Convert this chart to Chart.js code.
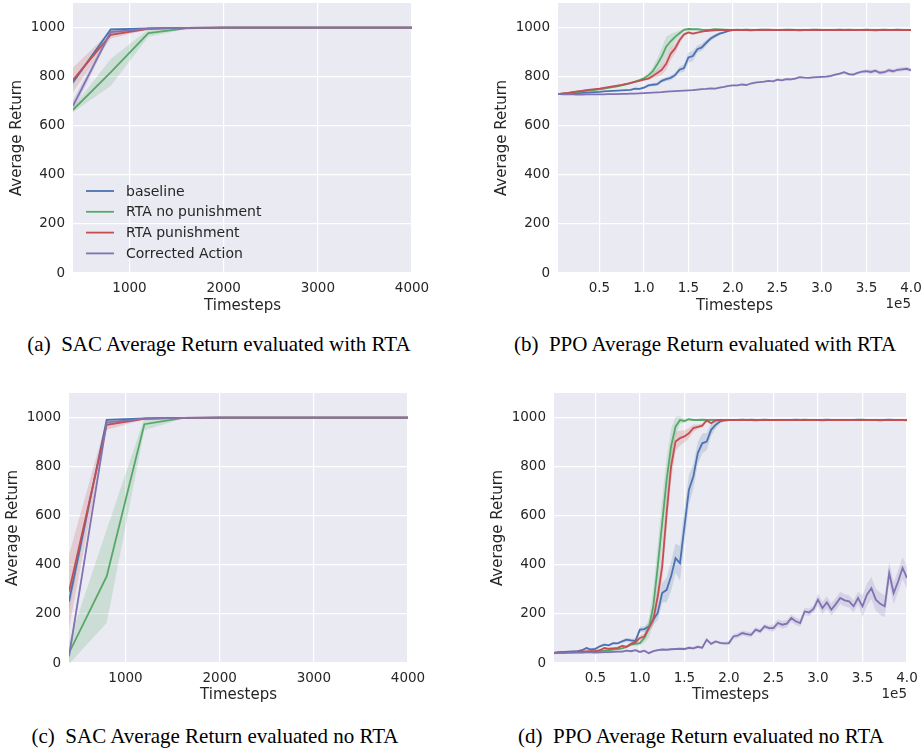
<!DOCTYPE html>
<html>
<head>
<meta charset="utf-8">
<script src="https://cdn.jsdelivr.net/npm/chart.js@4.4.0/dist/chart.umd.min.js"></script>
<style>
  body { margin: 0; background: #fff; width: 923px; height: 749px; position: relative; overflow: hidden; }
  canvas { position: absolute; }
  .cap { position: absolute; font-family: "Liberation Serif", serif; font-size: 21px; color: #000;
         white-space: nowrap; transform: translate(-50%, -50%); }
</style>
</head>
<body>
<canvas id="chartA" width="460" height="320" style="left:0;top:0"></canvas>
<canvas id="chartB" width="463" height="320" style="left:460px;top:0"></canvas>
<canvas id="chartC" width="460" height="330" style="left:0;top:380px"></canvas>
<canvas id="chartD" width="463" height="330" style="left:460px;top:380px"></canvas>
<div class="cap" style="left:219px;top:344px">(a)&nbsp; SAC Average Return evaluated with RTA</div>
<div class="cap" style="left:705px;top:344px">(b)&nbsp; PPO Average Return evaluated with RTA</div>
<div class="cap" style="left:215px;top:736px">(c)&nbsp; SAC Average Return evaluated no RTA</div>
<div class="cap" style="left:701px;top:736px">(d)&nbsp; PPO Average Return evaluated no RTA</div>
<script>
const seriesLabels = ['baseline', 'RTA no punishment', 'RTA punishment', 'Corrected Action'];
const yTicks = [0, 200, 400, 600, 800, 1000];
const sacTicks = [1000, 2000, 3000, 4000];
const ppoTicks = [50000, 100000, 150000, 200000, 250000, 300000, 350000, 400000];

// SAC, evaluated every 400 steps
const sacSteps = [400, 800, 1200, 1600, 2000, 2400, 2800, 3200, 3600, 4000];

const sacRtaBaseline  = [777, 992, 997, 999, 1000, 1000, 1000, 1000, 1000, 1000];
const sacRtaNoPun     = [665, 817, 977, 997, 1000, 1000, 1000, 1000, 1000, 1000];
const sacRtaPun       = [787, 970, 995, 999, 1000, 1000, 1000, 1000, 1000, 1000];
const sacRtaCorrected = [681, 981, 996, 999, 1000, 1000, 1000, 1000, 1000, 1000];
const sacRtaBaselineSd  = [10, 3, 1, 0, 0, 0, 0, 0, 0, 0];
const sacRtaNoPunSd     = [10, 55, 15, 3, 0, 0, 0, 0, 0, 0];
const sacRtaPunSd       = [50, 15, 3, 1, 0, 0, 0, 0, 0, 0];
const sacRtaCorrectedSd = [25, 8, 2, 1, 0, 0, 0, 0, 0, 0];

const sacNoRtaBaseline  = [251, 991, 997, 999, 1000, 1000, 1000, 1000, 1000, 1000];
const sacNoRtaNoPun     = [41, 353, 973, 998, 1000, 1000, 1000, 1000, 1000, 1000];
const sacNoRtaPun       = [291, 970, 995, 999, 1000, 1000, 1000, 1000, 1000, 1000];
const sacNoRtaCorrected = [27, 980, 996, 999, 1000, 1000, 1000, 1000, 1000, 1000];
const sacNoRtaBaselineSd  = [40, 3, 1, 0, 0, 0, 0, 0, 0, 0];
const sacNoRtaNoPunSd     = [45, 190, 25, 3, 0, 0, 0, 0, 0, 0];
const sacNoRtaPunSd       = [150, 20, 3, 1, 0, 0, 0, 0, 0, 0];
const sacNoRtaCorrectedSd = [20, 8, 2, 1, 0, 0, 0, 0, 0, 0];

// PPO, read every 5000 steps
const ppoSteps = [0, 5000, 10000, 15000, 20000, 25000, 30000, 35000, 40000, 45000,
  50000, 55000, 60000, 65000, 70000, 75000, 80000, 85000, 90000, 95000,
  100000, 105000, 110000, 115000, 120000, 125000, 130000, 135000, 140000, 145000,
  150000, 155000, 160000, 165000, 170000, 175000, 180000, 185000, 190000, 195000,
  200000, 205000, 210000, 215000, 220000, 225000, 230000, 235000, 240000, 245000,
  250000, 255000, 260000, 265000, 270000, 275000, 280000, 285000, 290000, 295000,
  300000, 305000, 310000, 315000, 320000, 325000, 330000, 335000, 340000, 345000,
  350000, 355000, 360000, 365000, 370000, 375000, 380000, 385000, 390000, 395000, 400000];

const ppoRtaBaseline = [728, 729, 730, 731, 732, 733, 734, 735, 736, 737,
  738, 740, 741, 742, 743, 744, 745, 746, 751, 750,
  755, 764, 767, 769, 783, 790, 795, 806, 828, 835,
  878, 884, 912, 919, 938, 955, 966, 975, 980, 986,
  990, 990, 990, 991, 990, 990, 990, 991, 990, 990,
  990, 990, 991, 990, 990, 990, 990, 990, 991, 990,
  990, 990, 990, 990, 991, 990, 990, 990, 990, 990,
  991, 990, 990, 990, 990, 990, 990, 991, 990, 990, 990];
const ppoRtaNoPun = [728, 730, 732, 734, 736, 738, 740, 742, 744, 746,
  748, 751, 754, 757, 760, 764, 768, 773, 780, 786,
  793, 805, 822, 850, 882, 922, 944, 962, 977, 991,
  994, 993, 993, 991, 990, 991, 993, 992, 991, 990,
  990, 991, 990, 990, 990, 990, 991, 990, 990, 990,
  990, 990, 990, 991, 990, 990, 990, 990, 990, 991,
  990, 990, 990, 990, 990, 990, 991, 990, 990, 990,
  990, 990, 990, 990, 991, 990, 990, 990, 990, 990, 990];
const ppoRtaPun = [728, 730, 732, 734, 737, 740, 742, 745, 747, 749,
  751, 754, 757, 760, 763, 766, 770, 775, 779, 783,
  788, 792, 803, 815, 828, 852, 893, 915, 948, 972,
  980, 975, 979, 983, 986, 988, 989, 990, 990, 990,
  990, 990, 990, 990, 989, 990, 990, 990, 991, 990,
  990, 990, 990, 990, 990, 989, 990, 990, 990, 990,
  990, 990, 990, 990, 990, 990, 990, 990, 990, 990,
  990, 990, 989, 990, 990, 990, 990, 990, 990, 990, 990];
const ppoRtaCorrected = [729, 729, 728, 728, 728, 727, 727, 728, 728, 728,
  728, 728, 729, 729, 729, 730, 730, 731, 731, 732,
  733, 734, 735, 736, 737, 739, 740, 741, 742, 743,
  744, 745, 747, 749, 750, 752, 751, 755, 758, 762,
  764, 764, 768, 766, 772, 776, 778, 780, 783, 781,
  788, 785, 790, 789, 792, 798, 796, 795, 797, 798,
  799, 800, 803, 808, 812, 818, 810, 808, 815, 820,
  822, 819, 824, 816, 818, 826, 822, 828, 830, 832, 826];
const ppoRtaBaselineSd = [2, 2, 2, 2, 2, 2, 2, 2, 2, 2,
  2, 2, 2, 2, 2, 2, 2, 2, 4, 4,
  5, 6, 6, 7, 8, 9, 10, 10, 12, 15,
  20, 20, 15, 15, 12, 10, 8, 6, 4, 3,
  1, 1, 1, 1, 1, 1, 1, 1, 1, 1,
  1, 1, 1, 1, 1, 1, 1, 1, 1, 1,
  1, 1, 1, 1, 1, 1, 1, 1, 1, 1,
  1, 1, 1, 1, 1, 1, 1, 1, 1, 1, 1];
const ppoRtaNoPunSd = [2, 2, 2, 2, 2, 2, 2, 2, 2, 2,
  2, 2, 2, 2, 2, 2, 2, 2, 3, 4,
  6, 10, 15, 25, 35, 40, 30, 20, 10, 5,
  3, 2, 2, 2, 2, 2, 2, 2, 2, 2,
  1, 1, 1, 1, 1, 1, 1, 1, 1, 1,
  1, 1, 1, 1, 1, 1, 1, 1, 1, 1,
  1, 1, 1, 1, 1, 1, 1, 1, 1, 1,
  1, 1, 1, 1, 1, 1, 1, 1, 1, 1, 1];
const ppoRtaPunSd = [2, 2, 2, 2, 2, 2, 2, 2, 2, 2,
  2, 2, 2, 2, 2, 2, 2, 2, 2, 2,
  4, 6, 10, 15, 20, 25, 25, 20, 15, 8,
  5, 5, 4, 3, 2, 2, 2, 2, 2, 2,
  1, 1, 1, 1, 1, 1, 1, 1, 1, 1,
  1, 1, 1, 1, 1, 1, 1, 1, 1, 1,
  1, 1, 1, 1, 1, 1, 1, 1, 1, 1,
  1, 1, 1, 1, 1, 1, 1, 1, 1, 1, 1];
const ppoRtaCorrectedSd = [2, 2, 2, 2, 2, 2, 2, 2, 2, 2,
  2, 2, 2, 2, 2, 2, 2, 2, 2, 2,
  2, 2, 2, 2, 2, 2, 2, 2, 2, 2,
  3, 3, 3, 3, 3, 3, 3, 3, 3, 3,
  3, 3, 3, 3, 3, 3, 3, 3, 3, 3,
  5, 5, 5, 5, 5, 5, 5, 5, 5, 5,
  5, 5, 5, 5, 5, 5, 5, 5, 5, 5,
  8, 8, 8, 8, 8, 8, 8, 8, 8, 8, 8];

const ppoNoRtaBaseline = [40, 42, 44, 45, 46, 47, 48, 52, 61, 55,
  58, 68, 75, 72, 81, 80, 88, 95, 92, 90,
  136, 138, 149, 176, 204, 285, 298, 353, 427, 407,
  556, 705, 760, 855, 895, 902, 950, 970, 984, 988,
  990, 990, 990, 991, 990, 990, 990, 990, 991, 990,
  990, 990, 990, 990, 990, 991, 990, 990, 990, 990,
  990, 990, 991, 990, 990, 990, 990, 990, 990, 991,
  990, 990, 990, 990, 990, 990, 991, 990, 990, 990, 990];
const ppoNoRtaNoPun = [38, 40, 40, 41, 42, 43, 44, 45, 46, 46,
  47, 48, 50, 52, 55, 57, 60, 66, 75, 78,
  81, 102, 142, 230, 393, 570, 746, 882, 963, 990,
  986, 993, 990, 990, 991, 990, 990, 990, 990, 990,
  990, 990, 990, 990, 990, 991, 990, 990, 990, 990,
  990, 990, 990, 990, 990, 990, 990, 991, 990, 990,
  990, 990, 990, 990, 990, 990, 990, 990, 990, 990,
  991, 990, 990, 990, 990, 990, 990, 990, 990, 990, 990];
const ppoNoRtaPun = [40, 42, 43, 44, 45, 45, 46, 47, 47, 48,
  48, 52, 61, 58, 60, 62, 70, 66, 78, 85,
  102, 108, 142, 176, 271, 393, 610, 800, 902, 916,
  923, 936, 957, 962, 967, 988, 977, 988, 990, 990,
  990, 990, 990, 990, 990, 990, 989, 990, 990, 990,
  990, 990, 990, 990, 990, 990, 990, 990, 990, 990,
  990, 989, 990, 990, 990, 990, 990, 990, 990, 990,
  990, 990, 990, 990, 989, 990, 990, 990, 990, 990, 989];
const ppoNoRtaCorrected = [40, 40, 41, 41, 42, 42, 42, 42, 43, 43,
  42, 43, 44, 44, 45, 46, 46, 50, 48, 52,
  45, 50, 40, 48, 52, 55, 54, 56, 57, 58,
  57, 62, 60, 66, 62, 95, 78, 88, 82, 80,
  81, 108, 112, 122, 118, 115, 136, 129, 149, 142,
  142, 163, 156, 160, 183, 170, 163, 210, 206, 220,
  258, 224, 247, 217, 240, 265, 255, 251, 231, 265,
  231, 278, 305, 258, 241, 231, 366, 285, 332, 387, 346];
const ppoNoRtaBaselineSd = [4, 4, 4, 4, 4, 4, 4, 4, 4, 4,
  4, 4, 4, 4, 4, 4, 6, 8, 8, 10,
  12, 12, 15, 20, 30, 40, 50, 60, 60, 70,
  70, 60, 50, 45, 40, 35, 25, 15, 8, 4,
  2, 2, 2, 2, 2, 2, 2, 2, 2, 2,
  2, 2, 2, 2, 2, 2, 2, 2, 2, 2,
  2, 2, 2, 2, 2, 2, 2, 2, 2, 2,
  2, 2, 2, 2, 2, 2, 2, 2, 2, 2, 2];
const ppoNoRtaNoPunSd = [3, 3, 3, 3, 3, 3, 3, 3, 3, 3,
  3, 3, 3, 3, 3, 3, 4, 5, 6, 8,
  10, 20, 40, 70, 90, 100, 90, 70, 40, 15,
  8, 4, 2, 2, 2, 2, 2, 2, 2, 2,
  2, 2, 2, 2, 2, 2, 2, 2, 2, 2,
  2, 2, 2, 2, 2, 2, 2, 2, 2, 2,
  2, 2, 2, 2, 2, 2, 2, 2, 2, 2,
  2, 2, 2, 2, 2, 2, 2, 2, 2, 2, 2];
const ppoNoRtaPunSd = [3, 3, 3, 3, 3, 3, 3, 3, 3, 3,
  3, 3, 3, 3, 3, 3, 5, 5, 6, 8,
  10, 12, 15, 25, 40, 60, 70, 60, 40, 30,
  25, 20, 15, 10, 8, 6, 5, 4, 2, 2,
  2, 2, 2, 2, 2, 2, 2, 2, 2, 2,
  2, 2, 2, 2, 2, 2, 2, 2, 2, 2,
  2, 2, 2, 2, 2, 2, 2, 2, 2, 2,
  2, 2, 2, 2, 2, 2, 2, 2, 2, 2, 2];
const ppoNoRtaCorrectedSd = [4, 4, 4, 4, 4, 4, 4, 4, 4, 4,
  4, 4, 4, 4, 4, 4, 4, 4, 4, 4,
  4, 4, 4, 4, 4, 4, 4, 4, 4, 4,
  6, 6, 6, 6, 6, 6, 6, 6, 6, 6,
  10, 10, 10, 10, 10, 10, 10, 10, 10, 10,
  15, 15, 15, 15, 15, 15, 15, 15, 15, 15,
  25, 25, 25, 25, 25, 25, 25, 25, 25, 25,
  45, 45, 45, 45, 45, 45, 45, 45, 45, 45, 45];

const colors = ['#4C72B0', '#55A868', '#C44E52', '#8172B2'];
const textColor = '#262626';

function buildDatasets(xs, means, sds) {
  const lines = [];
  const bands = [];
  means.forEach((m, s) => {
    lines.push({
      label: seriesLabels[s],
      data: xs.map((x, i) => ({ x: x, y: m[i] })),
      borderColor: colors[s], borderWidth: 1.8, pointRadius: 0, fill: false,
      order: 4 - s
    });
  });
  means.forEach((m, s) => {
    bands.push({
      data: xs.map((x, i) => ({ x: x, y: m[i] + sds[s][i] })),
      borderColor: 'rgba(0,0,0,0)', borderWidth: 0, pointRadius: 0,
      backgroundColor: colors[s] + '33', fill: '+1', order: 10 + s
    });
    bands.push({
      data: xs.map((x, i) => ({ x: x, y: m[i] - sds[s][i] })),
      borderColor: 'rgba(0,0,0,0)', borderWidth: 0, pointRadius: 0,
      fill: false, order: 10 + s
    });
  });
  return lines.concat(bands);
}

const panelBg = {
  id: 'panelBg',
  beforeDraw(chart) {
    const a = chart.chartArea, ctx = chart.ctx;
    ctx.save();
    ctx.fillStyle = '#EAEAF2';
    ctx.fillRect(a.left, a.top, a.right - a.left, a.bottom - a.top);
    ctx.restore();
  }
};

const extras = {
  id: 'extras',
  afterDraw(chart, args, opts) {
    const ctx = chart.ctx, a = chart.chartArea;
    ctx.save();
    ctx.fillStyle = textColor;
    if (opts.offset) {
      ctx.textAlign = 'right';
      ctx.textBaseline = 'middle';
      ctx.font = '13.5px "DejaVu Sans"';
      ctx.fillText('1e5', a.right, opts.offsetY);
    }
    if (opts.legend) {
      const lg = opts.legend;
      ctx.font = '14px "DejaVu Sans"';
      ctx.textAlign = 'left';
      ctx.textBaseline = 'middle';
      seriesLabels.forEach((lab, i) => {
        const y = lg.y + i * lg.gap;
        ctx.strokeStyle = colors[i];
        ctx.lineWidth = 1.8;
        ctx.beginPath();
        ctx.moveTo(lg.x, y);
        ctx.lineTo(lg.x + 28, y);
        ctx.stroke();
        ctx.fillText(lab, lg.x + 40, y + 1);
      });
    }
    ctx.restore();
  }
};

function makeChart(id, p) {
  const canvas = document.getElementById(id);
  const W = canvas.width, H = canvas.height;
  return new Chart(canvas.getContext('2d'), {
    type: 'line',
    data: { datasets: buildDatasets(p.xs, p.means, p.sds) },
    plugins: [panelBg, extras],
    options: {
      responsive: false,
      animation: false,
      layout: { padding: { left: 0, top: p.top, right: W - p.right, bottom: 0 } },
      plugins: {
        legend: { display: false },
        tooltip: { enabled: false },
        extras: { legend: p.legend, offset: p.offset, offsetY: p.offsetY }
      },
      scales: {
        x: {
          type: 'linear', min: p.xmin, max: p.xmax,
          afterBuildTicks: s => { s.ticks = p.xTicks.map(v => ({ value: v })); },
          afterFit: s => {
            s.height = H - p.bottom;
            s.paddingLeft = 0; s.paddingRight = 0; s.paddingTop = 0; s.paddingBottom = 0;
          },
          grid: { color: '#ffffff', lineWidth: 1.2, drawTicks: false },
          border: { display: false },
          ticks: {
            padding: 7, color: textColor, autoSkip: false, maxRotation: 0,
            font: { family: 'DejaVu Sans', size: 13.5 },
            callback: p.xLabel
          },
          title: {
            display: true, text: 'Timesteps', color: textColor,
            font: { family: 'DejaVu Sans', size: 15, lineHeight: 1.2 },
            padding: { top: 0, bottom: p.xTitlePad }
          }
        },
        y: {
          min: 0, max: 1100,
          afterBuildTicks: s => { s.ticks = yTicks.map(v => ({ value: v })); },
          afterFit: s => {
            s.width = p.left;
            s.paddingLeft = 0; s.paddingRight = 0; s.paddingTop = 0; s.paddingBottom = 0;
          },
          grid: { color: '#ffffff', lineWidth: 1.2, drawTicks: false },
          border: { display: false },
          ticks: {
            padding: 8, color: textColor,
            font: { family: 'DejaVu Sans', size: 13.5 },
            callback: v => String(v)
          },
          title: {
            display: true, text: 'Average Return', color: textColor,
            font: { family: 'DejaVu Sans', size: 15, lineHeight: 1.2 },
            padding: { top: p.yTitlePad, bottom: 0 }
          }
        }
      }
    }
  });
}

const sacLabel = v => String(v);
const ppoLabel = v => (v / 1e5).toFixed(1);

makeChart('chartA', {
  xs: sacSteps, xmin: 400, xmax: 4000, xTicks: sacTicks, xLabel: sacLabel,
  means: [sacRtaBaseline, sacRtaNoPun, sacRtaPun, sacRtaCorrected],
  sds: [sacRtaBaselineSd, sacRtaNoPunSd, sacRtaPunSd, sacRtaCorrectedSd],
  left: 73, right: 412, top: 3, bottom: 273, yTitlePad: 8, xTitlePad: 4.5,
  legend: { x: 86, y: 191, gap: 20.8 }
});
makeChart('chartB', {
  xs: ppoSteps, xmin: 3500, xmax: 400000, xTicks: ppoTicks, xLabel: ppoLabel,
  means: [ppoRtaBaseline, ppoRtaNoPun, ppoRtaPun, ppoRtaCorrected],
  sds: [ppoRtaBaselineSd, ppoRtaNoPunSd, ppoRtaPunSd, ppoRtaCorrectedSd],
  left: 98, right: 451, top: 3, bottom: 273, yTitlePad: 32.7, xTitlePad: 4.5,
  offset: true, offsetY: 304
});
makeChart('chartC', {
  xs: sacSteps, xmin: 400, xmax: 4000, xTicks: sacTicks, xLabel: sacLabel,
  means: [sacNoRtaBaseline, sacNoRtaNoPun, sacNoRtaPun, sacNoRtaCorrected],
  sds: [sacNoRtaBaselineSd, sacNoRtaNoPunSd, sacNoRtaPunSd, sacNoRtaCorrectedSd],
  left: 69, right: 408, top: 13, bottom: 283, yTitlePad: 4, xTitlePad: 5.5
});
makeChart('chartD', {
  xs: ppoSteps, xmin: 3500, xmax: 400000, xTicks: ppoTicks, xLabel: ppoLabel,
  means: [ppoNoRtaBaseline, ppoNoRtaNoPun, ppoNoRtaPun, ppoNoRtaCorrected],
  sds: [ppoNoRtaBaselineSd, ppoNoRtaNoPunSd, ppoNoRtaPunSd, ppoNoRtaCorrectedSd],
  left: 94, right: 447, top: 13, bottom: 283, yTitlePad: 29, xTitlePad: 5.5,
  offset: true, offsetY: 314
});
</script>
</body>
</html>
